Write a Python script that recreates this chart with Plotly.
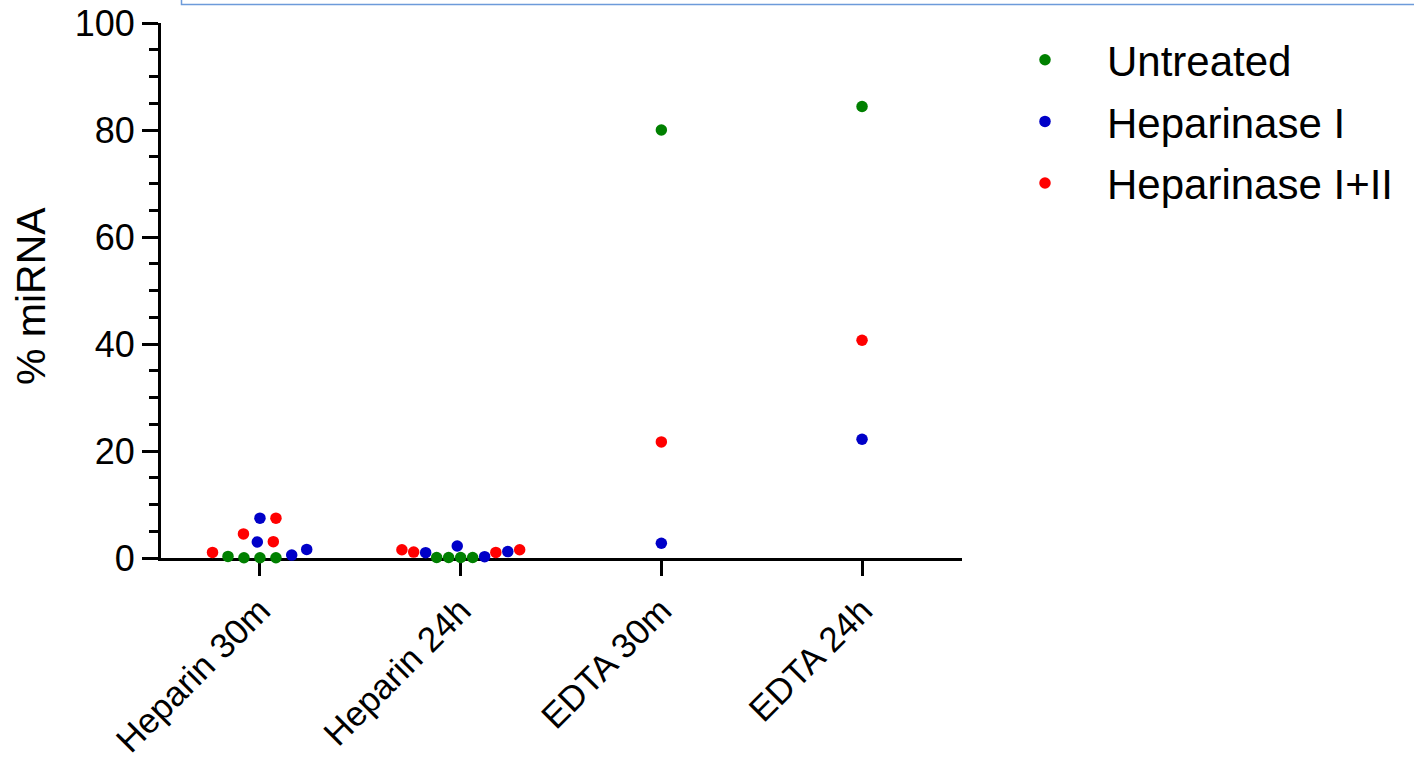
import math
import plotly.graph_objects as go

# ---------------- data ----------------
categories = ["Heparin 30m", "Heparin 24h", "EDTA 30m", "EDTA 24h"]
series_names = ["Untreated", "Heparinase I", "Heparinase I+II"]

untreated = [
    [0.05, 0.05, 0.05, 0.3],
    [0.1, 0.1, 0.1, 0.1],
    [80.0],
    [84.4],
]
heparinase_1 = [
    [1.6, 0.55, 3.0, 7.45],
    [1.2, 0.25, 1.0, 2.25],
    [2.75],
    [22.2],
]
heparinase_1_2 = [
    [7.45, 4.5, 3.05, 1.05],
    [1.05, 1.1, 1.55, 1.55],
    [21.7],
    [40.7],
]
y_ticks = [0, 20, 40, 60, 80, 100]
y_title = "% miRNA"

# ---------------- layout constants ----------------
W, H = 1414, 758
ML, MR, MT, MB = 161, 452, 23, 200
X_RANGE = [-0.493, 3.498]
Y_RANGE = [0, 100]
DOT = 11.5
SWARM_GAP = [16.0, 12.0, 12.0, 12.0]
colors = ["#008000", "#0000C8", "#FF0000"]

plot_w = W - ML - MR
plot_h = H - MT - MB
px_per_x = plot_w / (X_RANGE[1] - X_RANGE[0])
px_per_y = plot_h / (Y_RANGE[1] - Y_RANGE[0])


def beeswarm(values, diameter):
    """Return horizontal pixel offsets so that dots do not overlap."""
    order = sorted(range(len(values)), key=lambda i: values[i])
    placed = []  # (x_px, y_px)
    offsets = [0.0] * len(values)
    d = diameter
    for i in order:
        y = values[i] * px_per_y
        cands = [0.0]
        for (px, py) in placed:
            dy = abs(py - y)
            if dy < d:
                dx = math.sqrt(d * d - dy * dy)
                cands += [px + dx + 1e-6, px - dx - 1e-6]
        cands.sort(key=lambda c: (abs(c), c))
        for c in cands:
            ok = all((c - px) ** 2 + (y - py) ** 2 >= d * d - 1e-3 for px, py in placed)
            if ok:
                offsets[i] = c
                placed.append((c, y))
                break
    return offsets


groups = [untreated, heparinase_1, heparinase_1_2]
xs = [[], [], []]
ys = [[], [], []]
for ci, cat in enumerate(categories):
    vals, owner = [], []
    for gi, g in enumerate(groups):
        for v in g[ci]:
            vals.append(v)
            owner.append(gi)
    offs = beeswarm(vals, SWARM_GAP[ci])
    for v, gi, o in zip(vals, owner, offs):
        xs[gi].append(ci + o / px_per_x)
        ys[gi].append(v)

fig = go.Figure()
for gi, name in enumerate(series_names):
    fig.add_trace(go.Scatter(
        x=xs[gi], y=ys[gi], mode="markers", name=name,
        legendgroup=name,
        marker=dict(color=colors[gi], size=DOT, line=dict(width=0)),
        cliponaxis=False,
    ))

FONT = "Arial, Liberation Sans, sans-serif"
fig.update_layout(
    width=W, height=H,
    margin=dict(l=ML, r=MR, t=MT, b=MB, pad=0, autoexpand=False),
    paper_bgcolor="white", plot_bgcolor="white",
    font=dict(family=FONT, color="black", size=36),
    showlegend=True,
    legend=dict(
        x=(983 - ML) / plot_w, xanchor="left",
        y=(H - MB - 26) / plot_h, yanchor="top",
        font=dict(size=42, family=FONT, color="black"),
        itemwidth=114, tracegroupgap=4,
        bgcolor="rgba(0,0,0,0)",
    ),
    xaxis=dict(
        range=X_RANGE, tickmode="array",
        tickvals=list(range(len(categories))), ticktext=categories,
        tickangle=-45, ticks="outside", ticklen=15, tickwidth=3,
        tickcolor="black", showline=True, linecolor="black", linewidth=3,
        showgrid=False, zeroline=False, layer="below traces",
        tickfont=dict(size=35, family=FONT), automargin=False,
    ),
    yaxis=dict(
        range=Y_RANGE, tickmode="array", tickvals=y_ticks,
        ticks="outside", ticklen=16, tickwidth=3, tickcolor="black",
        showline=True, linecolor="black", linewidth=3,
        showgrid=False, zeroline=False, layer="below traces",
        tickfont=dict(size=36, family=FONT), automargin=False,
        minor=dict(dtick=5, ticks="outside", ticklen=9, tickwidth=3,
                   tickcolor="black", showgrid=False),
    ),
)

# y-axis title
fig.add_annotation(
    text=y_title, textangle=-90, showarrow=False,
    xref="paper", yref="paper",
    x=(31 - ML) / plot_w, y=(H - MB - 296) / plot_h,
    xanchor="center", yanchor="middle",
    font=dict(size=41, family=FONT, color="black"),
)

# thin blue frame partly visible at the top edge
fig.add_shape(
    type="rect", xref="paper", yref="paper",
    x0=(181.5 - ML) / plot_w, x1=(1500 - ML) / plot_w,
    y0=(H - MB - 4.5) / plot_h, y1=(H - MB + 40) / plot_h,
    line=dict(color="#6D9BDA", width=1.5), fillcolor="rgba(0,0,0,0)",
    layer="above",
)

fig.write_html(
    "out.html",
    config={"displayModeBar": False},
    post_script="document.body.style.margin='0';document.body.style.overflow='hidden';",
)
